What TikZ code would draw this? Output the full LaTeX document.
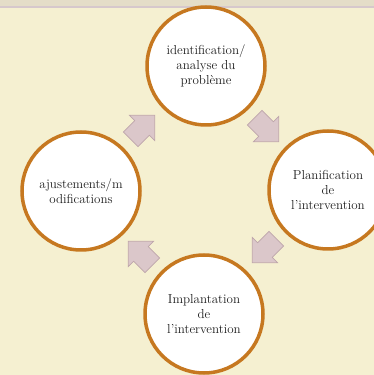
\documentclass[tikz,border=0pt]{standalone}
\usetikzlibrary{shapes.arrows}
\definecolor{parch}{RGB}{245,240,209}
\definecolor{band}{RGB}{228,221,200}
\definecolor{bandline}{RGB}{214,200,204}
\definecolor{ring}{RGB}{198,120,32}
\definecolor{blockfill}{RGB}{219,199,202}
\definecolor{blockline}{RGB}{190,165,171}
\definecolor{txt}{RGB}{30,30,30}
\begin{document}
\begin{tikzpicture}[x=1pt, y=1pt,
					stage/.style = {circle, draw=ring, line width=3.5pt, fill=white, minimum size=118pt, inner sep=0pt, align=center, text=txt, font=\fontsize{13}{15}\selectfont},
					blockarrow/.style={single arrow, draw=blockline, fill=blockfill, line width=0.7pt, minimum height=34pt, inner xsep=0pt, inner ysep=10pt, single arrow head extend=7.5pt}]
					
					\useasboundingbox (0,0) rectangle (374,375);
					\clip (0,0) rectangle (374,375);
					\fill[parch] (0,0) rectangle (374,375);
					\fill[band] (0,368) rectangle (374,375);
					\draw[bandline, line width=1.2pt] (0,368) -- (374,368);
					
					\node[stage] (ident) at (206,309) {identification/\\analyse du\\problème};
					\node[stage] (planif) at (328,185) {Planification\\de\\l'intervention};
					\node[stage] (implant) at (204,61) {Implantation\\de\\l'intervention};
					\node[stage] (ajust) at (81,184) {ajustements/m\\odifications};
					
					\node[blockarrow, rotate=-45] (a1) at (263,249) {};
					\node[blockarrow, rotate=-135] (a2) at (268,128) {};
					\node[blockarrow, rotate=135] (a3) at (144,118) {};
					\node[blockarrow, rotate=45] (a4) at (139,244) {};
				\end{tikzpicture}
\end{document}
